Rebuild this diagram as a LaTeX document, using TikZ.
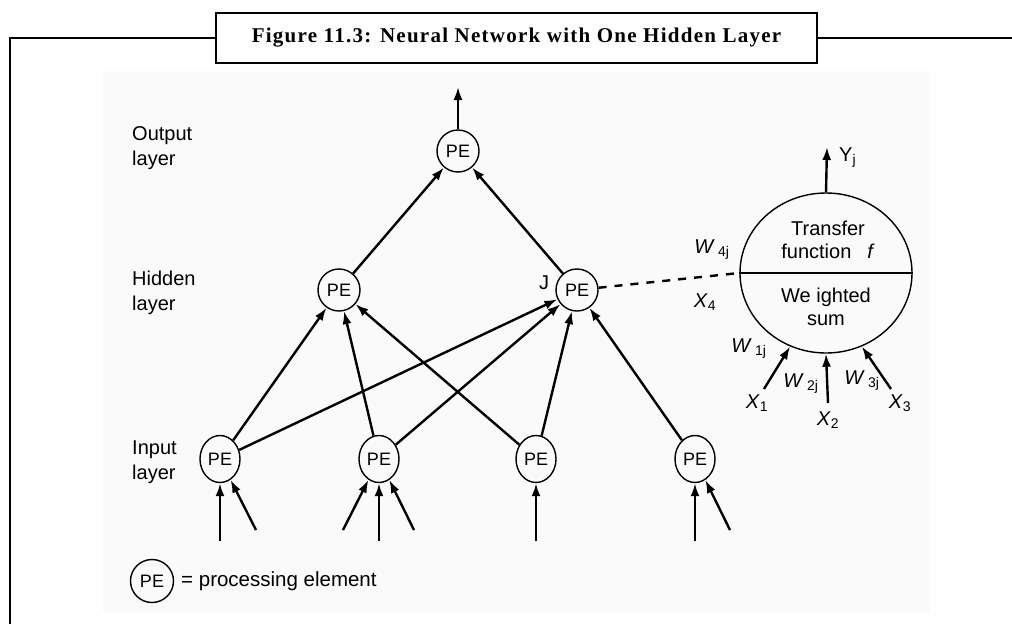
\documentclass[tikz,border=0pt]{standalone}
\usepackage{fontspec}
\setmainfont{Liberation Sans}
\newfontfamily\titlefont[LetterSpace=6]{Liberation Serif}
\usetikzlibrary{arrows.meta,shapes.geometric}

\begin{document}
\begin{tikzpicture}[x=1pt,y=-1pt,
    pe/.style={circle,draw,line width=1.4pt,minimum size=42pt,inner sep=0pt,font=\fontsize{18}{20}\selectfont},
    pein/.style={ellipse,draw,line width=1.4pt,minimum width=40pt,minimum height=47pt,inner sep=0pt,font=\fontsize{18}{20}\selectfont},
    wire/.style={line width=2.4pt,-{Latex[length=13pt,width=9pt]}},
    lbl/.style={font=\fontsize{20}{25}\selectfont,align=left,anchor=west,inner sep=0pt},
    txt/.style={font=\fontsize{20}{23}\selectfont,inner sep=0pt}]
\useasboundingbox (0,0) rectangle (1012,624);

% frame and title
\fill[black!2] (103,71) rectangle (930,613);
\node[draw,line width=2.5pt,minimum width=601pt,minimum height=50pt,inner sep=0pt,
      font=\titlefont\bfseries\fontsize{21}{24}\selectfont] (title) at (516.5,38)
      {Figure 11.3: Neural Network with One Hidden Layer};
\draw[line width=2.5pt] (10,624) -- (10,38) -- (title.west);
\draw[line width=2.5pt] (title.east) -- (1012,38);

% layer names
\node[lbl] (lout) at (132,148) {Output\\layer};
\node[lbl] (lhid) at (132,293) {Hidden\\layer};
\node[lbl] (linp) at (132,462) {Input\\layer};

% processing elements
\node[pe] (out) at (458,151) {PE};
\node[pe] (h1) at (339,290) {PE};
\node[pe] (hJ) at (577,290) {PE};
\node[txt] (jlbl) at (544,283) {J};
\node[pein] (i1) at (220,459) {PE};
\node[pein] (i2) at (379,459) {PE};
\node[pein] (i3) at (536,459) {PE};
\node[pein] (i4) at (695,459) {PE};

% weights between layers
\draw[wire] (i1) -- (h1);
\draw[wire] (i1) -- (hJ);
\draw[wire] (i2) -- (h1);
\draw[wire] (i2) -- (hJ);
\draw[wire] (i3) -- (h1);
\draw[wire] (i3) -- (hJ);
\draw[wire] (i4) -- (hJ);
\draw[wire] (h1) -- (out);
\draw[wire] (hJ) -- (out);
\coordinate (yout) at (458,87);
\draw[wire] (out) -- (yout);

% inputs from below
\coordinate (f1a) at (220,541);
\coordinate (f1b) at (256,530);
\coordinate (f2a) at (343,530);
\coordinate (f2b) at (379,541);
\coordinate (f2c) at (414,530);
\coordinate (f3a) at (536,541);
\coordinate (f4a) at (695,541);
\coordinate (f4b) at (730,530);
\draw[wire] (f1a) -- (i1);
\draw[wire] (f1b) -- (i1);
\draw[wire] (f2a) -- (i2);
\draw[wire] (f2b) -- (i2);
\draw[wire] (f2c) -- (i2);
\draw[wire] (f3a) -- (i3);
\draw[wire] (f4a) -- (i4);
\draw[wire] (f4b) -- (i4);

% close-up of unit J
\node[ellipse,draw,line width=1.4pt,minimum width=172pt,minimum height=160pt,inner sep=0pt] (neuron) at (826,273) {};
\draw[line width=1.6pt] (neuron.west) -- (neuron.east);
\draw[line width=2.4pt,dash pattern=on 8pt off 8pt] (hJ) -- (neuron.west);
\node[txt,align=center] (tf) at (828,240) {Transfer\\function\hspace{0.8em}\textit{f}};
\node[txt,align=center] (ws) at (826,307) {We ighted\\sum};
\coordinate (yj) at (827,147);
\draw[wire] (neuron.north) -- (yj);
\node[txt,anchor=west] (ylbl) at (839,158) {Y\textsubscript{j}};
\node[txt] (w4) at (712,250) {\textit{W}\,\textsubscript{4j}};
\node[txt] (x4) at (705,302) {\textit{X}\textsubscript{4}};

\coordinate (x1end) at (764,389);
\coordinate (x2end) at (828,403);
\coordinate (x3end) at (891,389);
\draw[wire] (x1end) -- (neuron.-116);
\draw[wire] (x2end) -- (neuron.south);
\draw[wire] (x3end) -- (neuron.-64);
\node[txt] (w1) at (749,349) {\textit{W}\,\textsubscript{1j}};
\node[txt] (w2) at (801,384) {\textit{W}\,\textsubscript{2j}};
\node[txt] (w3) at (862,381) {\textit{W}\,\textsubscript{3j}};
\node[txt] (x1) at (757,403) {\textit{X}\textsubscript{1}};
\node[txt] (x2) at (828,420) {\textit{X}\textsubscript{2}};
\node[txt] (x3) at (900,403) {\textit{X}\textsubscript{3}};

% key
\node[pe,minimum size=43pt] (key) at (152,581) {PE};
\node[lbl,font=\fontsize{20.5}{24}\selectfont] (keytxt) at (181,581) {= processing element};
\end{tikzpicture}
\end{document}
